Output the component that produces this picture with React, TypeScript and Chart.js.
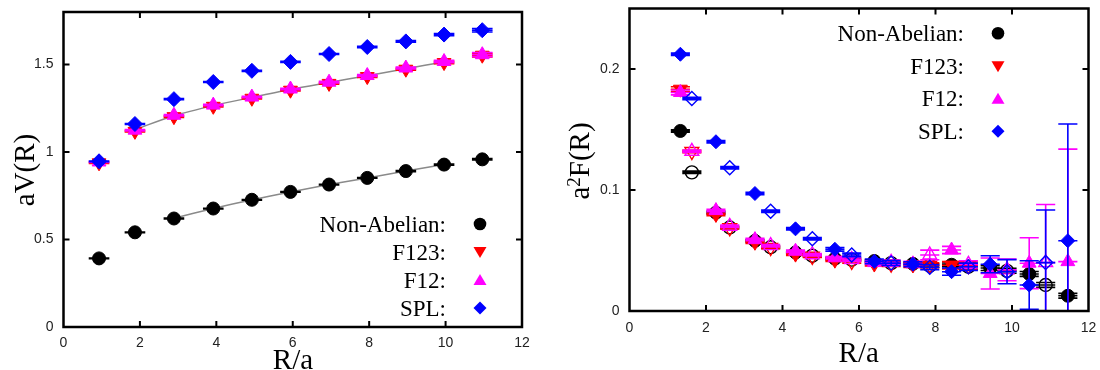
import React, { useEffect, useRef } from 'react';
import { Chart, registerables } from 'chart.js';
Chart.register(...registerables);

// ---------- axis ticks ----------
const X_TICKS = [0, 2, 4, 6, 8, 10, 12];
const V_Y_TICKS = [0, 0.5, 1, 1.5];
const F_Y_TICKS = [0, 0.1, 0.2];

// ---------- left panel: aV(R) ----------
const V_R = [0.93, 1.87, 2.89, 3.92, 4.93, 5.94, 6.95, 7.95, 8.96, 9.96, 10.96];
const V_NONABELIAN = [0.392, 0.541, 0.620, 0.677, 0.727, 0.772, 0.814, 0.852, 0.891, 0.928, 0.958];
const V_F123 = [0.938, 1.118, 1.202, 1.261, 1.307, 1.353, 1.392, 1.431, 1.473, 1.511, 1.553];
const V_F12 = [0.943, 1.125, 1.210, 1.268, 1.314, 1.360, 1.399, 1.437, 1.480, 1.517, 1.556];
const V_SPL = [0.947, 1.160, 1.302, 1.400, 1.464, 1.515, 1.560, 1.600, 1.632, 1.671, 1.696];
const V_NONABELIAN_ERR = [0.002, 0.002, 0.002, 0.002, 0.002, 0.002, 0.002, 0.002, 0.003, 0.003, 0.004];
const V_F123_ERR = [0.003, 0.004, 0.004, 0.004, 0.004, 0.004, 0.005, 0.005, 0.006, 0.007, 0.010];
const V_F12_ERR = [0.003, 0.004, 0.004, 0.004, 0.004, 0.004, 0.005, 0.005, 0.006, 0.007, 0.012];
const V_SPL_ERR = [0.002, 0.003, 0.003, 0.003, 0.003, 0.003, 0.003, 0.004, 0.005, 0.006, 0.010];
const V_R_ERR = 0.27;
// fitted curves (gray lines)
const V_FIT_NA_R = [2.89, 3.92, 4.93, 5.94, 6.95, 7.95, 8.96, 9.96];
const V_FIT_NA = [0.622, 0.677, 0.727, 0.772, 0.814, 0.852, 0.891, 0.928];
const V_FIT_F_R = [1.87, 2.89, 3.92, 4.93, 5.94, 6.95, 7.95, 8.96, 9.96];
const V_FIT_F = [1.128, 1.207, 1.265, 1.312, 1.357, 1.397, 1.436, 1.476, 1.514];

// ---------- right panel: a^2 F(R) ----------
const F_R_FILLED = [1.33, 2.26, 3.28, 4.34, 5.37, 6.40, 7.41, 8.42, 9.43, 10.45, 11.46];
const F_R_OPEN = [1.63, 2.62, 3.69, 4.78, 5.81, 6.84, 7.85, 8.86, 9.87, 10.88];
const F_NONABELIAN = [0.1488, 0.0813, 0.0580, 0.0484, 0.0433, 0.0413, 0.0390, 0.0382, 0.0355, 0.0306, 0.0126];
const F_NONABELIAN_OPEN = [0.1146, 0.0690, 0.0527, 0.0457, 0.0425, 0.0396, 0.0375, 0.0366, 0.0332, 0.0215];
const F_F123 = [0.1833, 0.0798, 0.0568, 0.0470, 0.0420, 0.0388, 0.0380, 0.0378];
const F_F123_OPEN = [0.1318, 0.0688, 0.0525, 0.0452, 0.0410, 0.0388, 0.0378, 0.0375];
const F_F12 = [0.1806, 0.0830, 0.0590, 0.0494, 0.0440, 0.0400, 0.0390, 0.0504, 0.0310, 0.0395, 0.0408];
const F_F12_OPEN = [0.1320, 0.0700, 0.0540, 0.0465, 0.0425, 0.0402, 0.0463, 0.0385, 0.0340, 0.0400];
const F_SPL = [0.2122, 0.1399, 0.0971, 0.0679, 0.0510, 0.0410, 0.0387, 0.0325, 0.0386, 0.0215, 0.0581];
const F_SPL_OPEN = [0.1757, 0.1184, 0.0825, 0.0597, 0.0463, 0.0396, 0.0362, 0.0366, 0.0325, 0.0400];
const F_NONABELIAN_ERR = [0.001, 0.001, 0.001, 0.001, 0.001, 0.001, 0.001, 0.0015, 0.002, 0.002, 0.002];
const F_NONABELIAN_OPEN_ERR = [0.001, 0.001, 0.001, 0.001, 0.001, 0.001, 0.0015, 0.002, 0.002, 0.002];
const F_F123_ERR = [0.002, 0.001, 0.001, 0.001, 0.001, 0.0015, 0.002, 0.003];
const F_F123_OPEN_ERR = [0.001, 0.001, 0.001, 0.001, 0.0015, 0.002, 0.002, 0.003];
const F_F12_ERR = [0.002, 0.001, 0.001, 0.001, 0.001, 0.0015, 0.002, 0.003, 0.0128, 0.021, 0.093];
const F_F12_OPEN_ERR = [0.001, 0.001, 0.001, 0.001, 0.0015, 0.002, 0.004, 0.003, 0.009, 0.048];
const F_SPL_ERR = [0.001, 0.001, 0.001, 0.001, 0.0015, 0.002, 0.002, 0.003, 0.007, 0.020, 0.0964];
const F_SPL_OPEN_ERR = [0.001, 0.001, 0.001, 0.001, 0.0015, 0.002, 0.002, 0.003, 0.010, 0.0435];
const F_R_ERR = 0.25;

const SERIES_LABELS = ['Non-Abelian:', 'F123:', 'F12:', 'SPL:'];
const BLACK = '#000000';
const RED = '#ff0000';
const MAGENTA = '#ff00ff';
const BLUE = '#0000ff';
const SERIF = "'Liberation Serif', 'Times New Roman', serif";
const SANS = "'Liberation Sans', Arial, sans-serif";

const pts = (xs: number[], ys: number[]) => ys.map((y, i) => ({ x: xs[i], y }));

const errorBarPlugin = {
  id: 'errorBars',
  beforeDatasetDraw(chart: any, args: any) {
    const ds = chart.data.datasets[args.index];
    if (!ds.yErr) return;
    const { ctx, chartArea: a } = chart;
    const xs = chart.scales.x, ys = chart.scales.y;
    ctx.save();
    ctx.beginPath();
    ctx.rect(a.left, a.top, a.right - a.left, a.bottom - a.top);
    ctx.clip();
    ctx.strokeStyle = ds.borderColor;
    ctx.lineWidth = 1.6;
    ds.data.forEach((p: any, i: number) => {
      const ye = ds.yErr[i];
      const x0 = xs.getPixelForValue(p.x - ds.xErr);
      const x1 = xs.getPixelForValue(p.x + ds.xErr);
      const xc = xs.getPixelForValue(p.x);
      const yc = ys.getPixelForValue(p.y);
      const yt = ys.getPixelForValue(p.y + ye);
      const yb = ys.getPixelForValue(p.y - ye);
      ctx.beginPath();
      ctx.moveTo(x0, yc); ctx.lineTo(x1, yc);
      ctx.moveTo(x0, yt); ctx.lineTo(x1, yt);
      ctx.moveTo(x0, yb); ctx.lineTo(x1, yb);
      ctx.moveTo(xc, yt); ctx.lineTo(xc, yb);
      ctx.stroke();
    });
    ctx.restore();
  },
};

function drawMarker(ctx: any, kind: string, x: number, y: number, color: string) {
  ctx.fillStyle = color;
  ctx.beginPath();
  if (kind === 'circle') {
    ctx.arc(x, y, 6.3, 0, Math.PI * 2);
  } else if (kind === 'down') {
    ctx.moveTo(x - 6.5, y - 5);
    ctx.lineTo(x + 6.5, y - 5);
    ctx.lineTo(x, y + 6);
    ctx.closePath();
  } else if (kind === 'up') {
    ctx.moveTo(x - 6.5, y + 5);
    ctx.lineTo(x + 6.5, y + 5);
    ctx.lineTo(x, y - 6);
    ctx.closePath();
  } else {
    ctx.moveTo(x - 6.5, y);
    ctx.lineTo(x, y - 6.5);
    ctx.lineTo(x + 6.5, y);
    ctx.lineTo(x, y + 6.5);
    ctx.closePath();
  }
  ctx.fill();
}

function makeDeco(o: any) {
  return {
    id: 'deco',
    afterDraw(chart: any) {
      const { ctx, chartArea: a } = chart;
      const xs = chart.scales.x, ys = chart.scales.y;
      ctx.save();
      // inward ticks
      ctx.strokeStyle = '#000';
      ctx.lineWidth = 2;
      ctx.beginPath();
      o.xTicks.forEach((v: number) => {
        if (v <= xs.min || v >= xs.max) return;
        const px = xs.getPixelForValue(v);
        ctx.moveTo(px, a.bottom); ctx.lineTo(px, a.bottom - 6);
        ctx.moveTo(px, a.top); ctx.lineTo(px, a.top + 6);
      });
      o.yTicks.forEach((v: number) => {
        if (v <= ys.min || v >= ys.max) return;
        const py = ys.getPixelForValue(v);
        ctx.moveTo(a.left, py); ctx.lineTo(a.left + 6, py);
        ctx.moveTo(a.right, py); ctx.lineTo(a.right - 6, py);
      });
      ctx.stroke();
      // frame
      ctx.lineWidth = 2.5;
      ctx.strokeRect(a.left, a.top, a.right - a.left, a.bottom - a.top);
      // x title
      ctx.fillStyle = '#000';
      ctx.font = `29px ${SERIF}`;
      ctx.textAlign = 'center';
      ctx.textBaseline = 'alphabetic';
      ctx.fillText('R/a', o.xTitleX, o.xTitleY);
      // y title (rotated)
      ctx.save();
      ctx.translate(o.yTitleX, o.yTitleY);
      ctx.rotate(-Math.PI / 2);
      ctx.textAlign = 'left';
      ctx.textBaseline = 'middle';
      const parts = o.yTitleParts;
      let total = 0;
      parts.forEach((p: any) => { ctx.font = `${p.size}px ${SERIF}`; total += ctx.measureText(p.t).width; });
      let cx = -total / 2;
      parts.forEach((p: any) => {
        ctx.font = `${p.size}px ${SERIF}`;
        ctx.fillText(p.t, cx, p.dy || 0);
        cx += ctx.measureText(p.t).width;
      });
      ctx.restore();
      // legend
      ctx.font = `23px ${SERIF}`;
      ctx.textAlign = 'right';
      ctx.textBaseline = 'alphabetic';
      o.legend.forEach((row: any, i: number) => {
        const y = o.legendRows[i];
        ctx.fillStyle = '#000';
        ctx.fillText(row.label, o.legendTextX, y + 7.5);
        drawMarker(ctx, row.kind, o.legendMarkX, y, row.color);
      });
      ctx.restore();
    },
  };
}

const LEGEND = [
  { label: SERIES_LABELS[0], kind: 'circle', color: BLACK },
  { label: SERIES_LABELS[1], kind: 'down', color: RED },
  { label: SERIES_LABELS[2], kind: 'up', color: MAGENTA },
  { label: SERIES_LABELS[3], kind: 'diamond', color: BLUE },
];

function markerDs(label: string, xs: number[], ys: number[], errs: number[], xErr: number, color: string,
  style: string, radius: number, rot: number, open: boolean, order: number) {
  return {
    label,
    data: pts(xs, ys),
    yErr: errs,
    xErr,
    borderColor: color,
    backgroundColor: open ? 'rgba(0,0,0,0)' : color,
    pointBackgroundColor: open ? 'rgba(0,0,0,0)' : color,
    pointBorderColor: color,
    pointBorderWidth: open ? 1.4 : 1,
    pointStyle: style,
    pointRadius: radius,
    pointRotation: rot,
    showLine: false,
    order,
  };
}

function fitDs(xs: number[], ys: number[]) {
  return {
    label: 'fit',
    data: pts(xs, ys),
    showLine: true,
    borderColor: '#8a8a8a',
    borderWidth: 1.5,
    pointRadius: 0,
    tension: 0.3,
    order: 20,
  };
}

function baseOptions(yMax: number, yTicks: number[], yWidth: number, xHeight: number, padding: any, xPad: number) {
  return {
    responsive: false,
    animation: false,
    events: [],
    layout: { padding, autoPadding: false },
    plugins: { legend: { display: false }, tooltip: { enabled: false } },
    scales: {
      x: {
        type: 'linear', min: 0, max: 12,
        grid: { display: false, drawTicks: false },
        border: { display: false },
        afterBuildTicks: (s: any) => { s.ticks = X_TICKS.map((v) => ({ value: v })); },
        afterFit: (s: any) => { s.height = xHeight; s.paddingLeft = 0; s.paddingRight = 0; },
        ticks: { color: '#222', font: { family: SANS, size: 14 }, padding: xPad, maxRotation: 0, autoSkip: false, callback: (v: any) => String(v) },
      },
      y: {
        type: 'linear', min: 0, max: yMax,
        grid: { display: false, drawTicks: false },
        border: { display: false },
        afterBuildTicks: (s: any) => { s.ticks = yTicks.map((v) => ({ value: v })); },
        afterFit: (s: any) => { s.width = yWidth; s.paddingTop = 0; s.paddingBottom = 0; },
        ticks: { color: '#222', font: { family: SANS, size: 14 }, padding: 10, autoSkip: false, callback: (v: any) => String(v) },
      },
    },
  };
}

function leftConfig() {
  return {
    type: 'scatter',
    data: {
      datasets: [
        fitDs(V_FIT_NA_R, V_FIT_NA),
        fitDs(V_FIT_F_R, V_FIT_F),
        markerDs('Non-Abelian', V_R, V_NONABELIAN, V_NONABELIAN_ERR, V_R_ERR, BLACK, 'circle', 6.5, 0, false, 8),
        markerDs('F123', V_R, V_F123, V_F123_ERR, V_R_ERR, RED, 'triangle', 8, 180, false, 6),
        markerDs('F12', V_R, V_F12, V_F12_ERR, V_R_ERR, MAGENTA, 'triangle', 8, 0, false, 4),
        markerDs('SPL', V_R, V_SPL, V_SPL_ERR, V_R_ERR, BLUE, 'rectRot', 7.5, 0, false, 2),
      ],
    },
    options: baseOptions(1.8, V_Y_TICKS, 63.5, 43, { left: 0, top: 12, right: 38, bottom: 0 }, 8),
    plugins: [errorBarPlugin, makeDeco({
      xTicks: X_TICKS, yTicks: V_Y_TICKS,
      xTitleX: 293, xTitleY: 369,
      yTitleX: 26, yTitleY: 170,
      yTitleParts: [{ t: 'aV(R)', size: 29 }],
      legend: LEGEND, legendRows: [224, 252, 280, 308], legendTextX: 446, legendMarkX: 480,
    })],
  };
}

function rightConfig() {
  return {
    type: 'scatter',
    data: {
      datasets: [
        markerDs('Non-Abelian', F_R_FILLED, F_NONABELIAN, F_NONABELIAN_ERR, F_R_ERR, BLACK, 'circle', 6.5, 0, false, 8),
        markerDs('Non-Abelian open', F_R_OPEN, F_NONABELIAN_OPEN, F_NONABELIAN_OPEN_ERR, F_R_ERR, BLACK, 'circle', 6.5, 0, true, 7),
        markerDs('F123', F_R_FILLED, F_F123, F_F123_ERR, F_R_ERR, RED, 'triangle', 8, 180, false, 6),
        markerDs('F123 open', F_R_OPEN, F_F123_OPEN, F_F123_OPEN_ERR, F_R_ERR, RED, 'triangle', 8, 180, true, 5),
        markerDs('F12', F_R_FILLED, F_F12, F_F12_ERR, F_R_ERR, MAGENTA, 'triangle', 8, 0, false, 4),
        markerDs('F12 open', F_R_OPEN, F_F12_OPEN, F_F12_OPEN_ERR, F_R_ERR, MAGENTA, 'triangle', 8, 0, true, 3),
        markerDs('SPL', F_R_FILLED, F_SPL, F_SPL_ERR, F_R_ERR, BLUE, 'rectRot', 7, 0, false, 2),
        markerDs('SPL open', F_R_OPEN, F_SPL_OPEN, F_SPL_OPEN_ERR, F_R_ERR, BLUE, 'rectRot', 7, 0, true, 1),
      ],
    },
    options: baseOptions(0.25, F_Y_TICKS, 69.5, 59, { left: 0, top: 8.5, right: 11.5, bottom: 0 }, 9),
    plugins: [errorBarPlugin, makeDeco({
      xTicks: X_TICKS, yTicks: F_Y_TICKS,
      xTitleX: 298.7, xTitleY: 362,
      yTitleX: 21.7, yTitleY: 161,
      yTitleParts: [{ t: 'a', size: 29 }, { t: '2', size: 19, dy: -7 }, { t: 'F(R)', size: 29 }],
      legend: LEGEND, legendRows: [33.3, 66.3, 98.7, 131.3], legendTextX: 404, legendMarkX: 438,
    })],
  };
}

function ChartCanvas({ config, width, height, left }: any) {
  const ref = useRef<HTMLCanvasElement | null>(null);
  useEffect(() => {
    const chart = new Chart(ref.current as any, config() as any);
    return () => chart.destroy();
  }, []);
  return (
    <canvas
      ref={ref}
      width={width}
      height={height}
      style={{ position: 'absolute', left, top: 0, width, height }}
    />
  );
}

export default function App() {
  return (
    <div style={{ position: 'fixed', left: 0, top: 0, width: 1100, height: 370, background: '#fff', overflow: 'hidden' }}>
      <ChartCanvas config={leftConfig} width={560} height={370} left={0} />
      <ChartCanvas config={rightConfig} width={540} height={370} left={560} />
    </div>
  );
}
